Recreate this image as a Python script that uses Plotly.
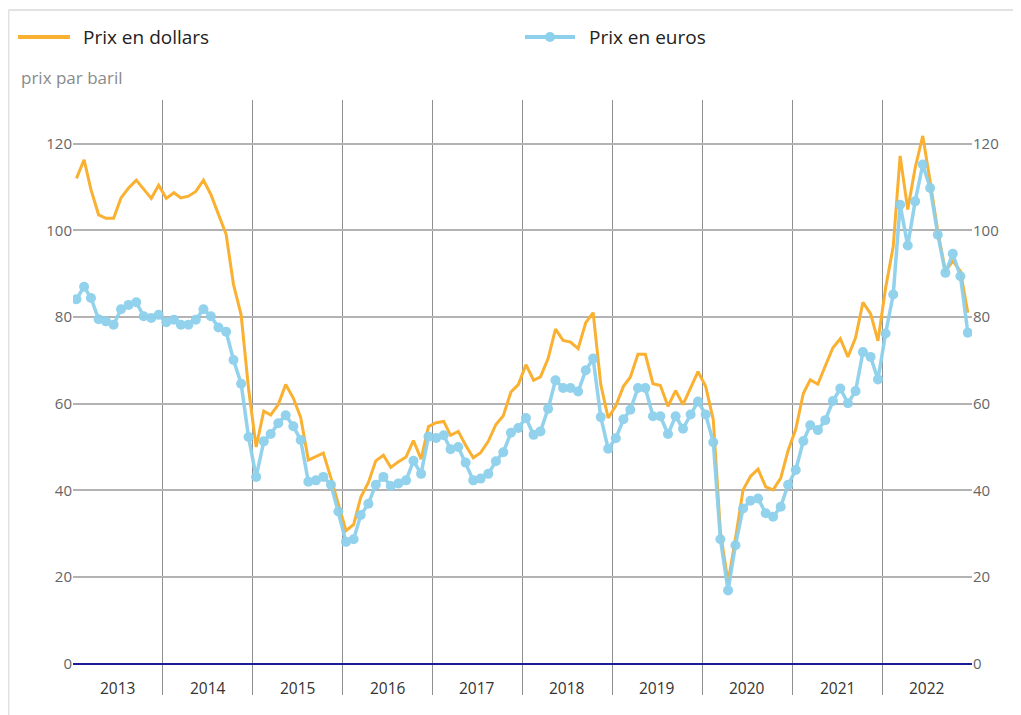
import pandas as pd
import plotly.graph_objects as go

# ---- data (monthly, Jan 2013 .. Dec 2022) ----
start_month = "2013-01-01"
n_months = 120
years = ["2013", "2014", "2015", "2016", "2017", "2018", "2019", "2020", "2021", "2022"]

prix_dollars = [
    112.0, 116.3, 109.4, 103.6, 102.8, 102.8, 107.5, 109.8, 111.6, 109.6, 107.4, 110.4,
    107.4, 108.7, 107.5, 107.9, 109.0, 111.6, 108.3, 103.7, 99.1, 87.5, 80.5, 63.5,
    50.0, 58.3, 57.4, 59.8, 64.4, 61.3, 56.8, 47.0, 47.8, 48.6, 42.8, 37.0,
    30.7, 32.1, 38.4, 41.8, 46.8, 48.1, 45.3, 46.6, 47.7, 51.5, 47.2, 54.7,
    55.6, 55.9, 52.7, 53.6, 50.4, 47.5, 48.7, 51.3, 55.2, 57.2, 62.7, 64.4,
    69.0, 65.4, 66.2, 70.4, 77.2, 74.6, 74.2, 72.7, 78.7, 81.0, 64.4, 56.7,
    59.5, 64.0, 66.1, 71.4, 71.4, 64.6, 64.2, 59.4, 63.0, 59.8, 63.6, 67.4,
    64.0, 56.3, 30.4, 18.8, 28.8, 40.1, 43.2, 44.9, 40.8, 40.1, 42.8, 49.2,
    54.1, 62.4, 65.5, 64.5, 68.7, 72.9, 75.0, 70.8, 75.2, 83.4, 80.8, 74.5,
    86.7, 96.3, 117.2, 104.8, 114.4, 121.8, 111.3, 99.8, 90.6, 92.9, 90.6, 81.0,
]

prix_euros = [
    84.1, 87.0, 84.4, 79.5, 79.0, 78.2, 81.8, 82.8, 83.4, 80.2, 79.8, 80.5,
    78.8, 79.4, 78.2, 78.2, 79.4, 81.8, 80.2, 77.6, 76.6, 70.1, 64.6, 52.3,
    43.1, 51.3, 53.0, 55.5, 57.3, 54.8, 51.6, 42.0, 42.3, 43.1, 41.3, 35.1,
    28.1, 28.7, 34.3, 36.9, 41.3, 43.1, 41.0, 41.6, 42.3, 46.8, 43.8, 52.4,
    52.1, 52.7, 49.5, 50.0, 46.4, 42.3, 42.7, 43.8, 46.7, 48.8, 53.3, 54.4,
    56.7, 52.8, 53.6, 58.8, 65.4, 63.6, 63.6, 62.8, 67.7, 70.4, 56.9, 49.6,
    52.0, 56.4, 58.6, 63.6, 63.6, 57.1, 57.1, 53.0, 57.1, 54.2, 57.5, 60.5,
    57.5, 51.1, 28.7, 16.9, 27.3, 35.8, 37.6, 38.1, 34.7, 33.9, 36.2, 41.3,
    44.7, 51.4, 55.0, 53.9, 56.2, 60.6, 63.5, 60.1, 62.9, 71.9, 70.8, 65.6,
    76.2, 85.2, 105.9, 96.5, 106.7, 115.2, 109.8, 99.0, 90.2, 94.6, 89.4, 76.4,
]

y_ticks = [0, 20, 40, 60, 80, 100, 120]

# ---- styling ----
ORANGE = "#FAB030"
BLUE = "#8DD0EC"
FONT = "Open Sans"

dates = pd.date_range(start_month, periods=n_months, freq="MS") + pd.Timedelta(days=14)

fig = go.Figure()
fig.add_trace(go.Scatter(
    x=dates, y=prix_dollars, mode="lines", name="Prix en dollars",
    line=dict(color=ORANGE, width=3), yaxis="y", showlegend=False,
))
fig.add_trace(go.Scatter(
    x=dates, y=prix_euros, mode="lines+markers", name="Prix en euros",
    line=dict(color=BLUE, width=3.5), marker=dict(color=BLUE, size=10),
    opacity=0.95, yaxis="y2", showlegend=False,
))

# page offset (body margin) and figure size
OFF = 8
FW, FH = 1021 - OFF, 715 - OFF
# plot-area geometry in screen pixels
L, R, T, B = 73, 972, 100, 695
W, H = R - L, B - T
def px(x):
    return (x - L) / W
def py(y):
    return (B - y) / H

shapes = [
    # container border
    dict(type="line", xref="paper", yref="paper", x0=px(OFF + 0.5), x1=px(1021), y0=py(10), y1=py(10),
         line=dict(color="#e2e2e2", width=2)),
    dict(type="line", xref="paper", yref="paper", x0=px(OFF + 0.5), x1=px(OFF + 0.5), y0=py(10), y1=py(716),
         line=dict(color="#e2e2e2", width=2)),
    # legend symbols
    dict(type="line", xref="paper", yref="paper", x0=px(18), x1=px(70), y0=py(37), y1=py(37),
         line=dict(color=ORANGE, width=4)),
    dict(type="line", xref="paper", yref="paper", x0=px(525), x1=px(575), y0=py(37), y1=py(37),
         line=dict(color=BLUE, width=4)),
    dict(type="circle", xref="paper", yref="paper", x0=px(545), x1=px(555), y0=py(42), y1=py(32),
         fillcolor=BLUE, line=dict(color=BLUE, width=0)),
]

annotations = [
    dict(text="Prix en dollars", xref="paper", yref="paper", x=px(81), y=py(37),
         xanchor="left", yanchor="middle", showarrow=False, font=dict(family=FONT, size=19, color="#222")),
    dict(text="Prix en euros", xref="paper", yref="paper", x=px(587), y=py(37),
         xanchor="left", yanchor="middle", showarrow=False, font=dict(family=FONT, size=19, color="#222")),
    dict(text="prix par baril", xref="paper", yref="paper", x=px(19), y=py(78),
         xanchor="left", yanchor="middle", showarrow=False, font=dict(family=FONT, size=17, color="#8a8a8a")),
]
for yr in years:
    annotations.append(dict(
        text=yr, x=f"{yr}-07-02", y=-5.6, xref="x", yref="y", showarrow=False,
        xanchor="center", yanchor="middle", font=dict(family=FONT, size=15.5, color="#333"),
    ))

yr_range = [-7.25, 130.1]
fig.update_layout(
    width=FW, height=FH,
    margin=dict(l=L - OFF, r=FW - (R - OFF), t=T - OFF, b=FH - (B - OFF)),
    paper_bgcolor="white", plot_bgcolor="white",
    font=dict(family=FONT),
    showlegend=False,
    shapes=shapes, annotations=annotations,
    xaxis=dict(
        type="date", range=["2013-01-01", "2023-01-01"],
        tick0="2013-01-01", dtick="M12", showticklabels=False,
        showgrid=True, gridcolor="#8f8f8f", gridwidth=1,
        zeroline=False, showline=False, ticks="",
    ),
    yaxis=dict(
        range=yr_range, tickvals=y_ticks, ticktext=[str(v) for v in y_ticks],
        showgrid=True, gridcolor="#b3b3b3", gridwidth=1.5,
        zeroline=True, zerolinecolor="#1c1c99", zerolinewidth=2,
        tickfont=dict(family=FONT, size=15, color="#666"), ticks="", showline=False,
    ),
    yaxis2=dict(
        range=yr_range, tickvals=y_ticks, ticktext=[str(v) for v in y_ticks],
        overlaying="y", side="right", showgrid=False, zeroline=False,
        tickfont=dict(family=FONT, size=15, color="#666"), ticks="", showline=False,
    ),
)

fig.write_html("out.html")
